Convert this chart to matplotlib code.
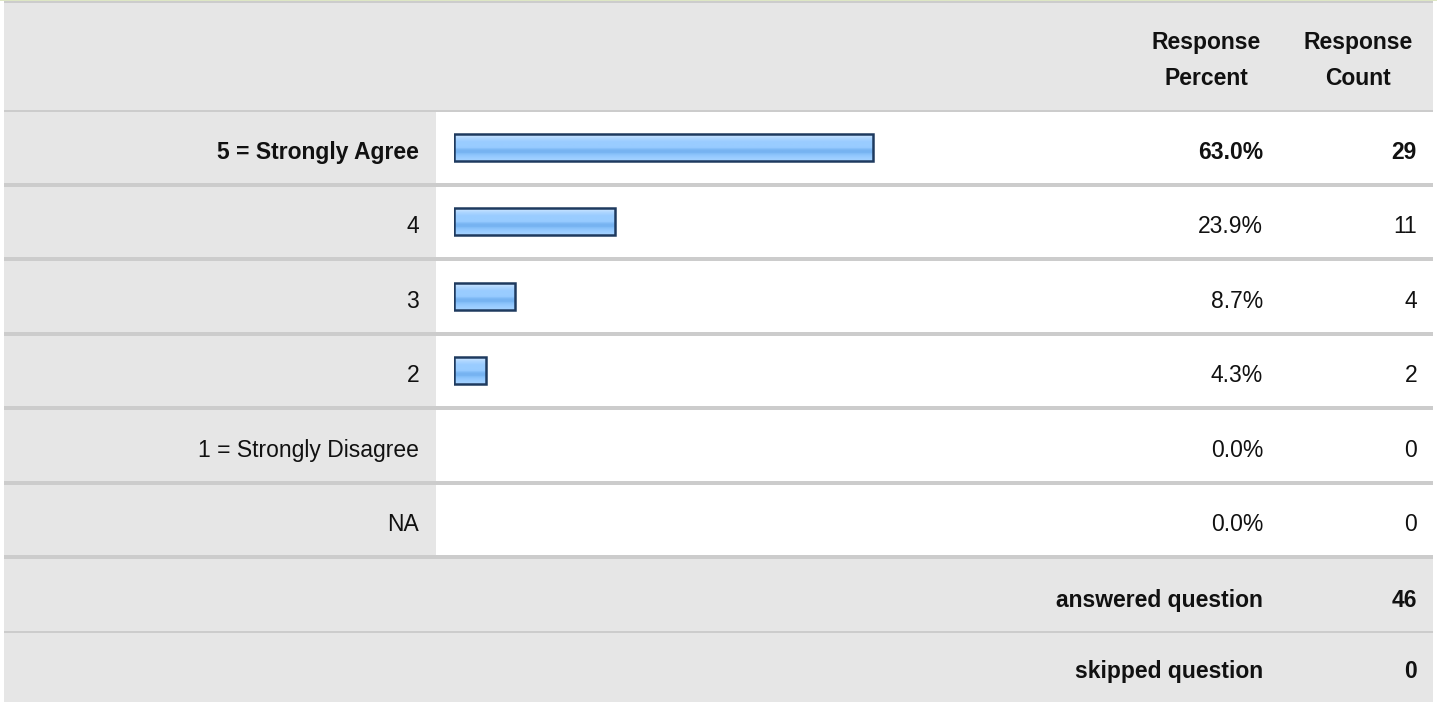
import numpy as np
import matplotlib
matplotlib.use('Agg')
import matplotlib.pyplot as plt
from matplotlib.patches import Rectangle
from matplotlib.colors import to_rgb

plt.rcParams['font.family'] = ['Liberation Sans', 'DejaVu Sans']

# datos de la encuesta
categorias = ['5 = Strongly Agree', '4', '3', '2', '1 = Strongly Disagree', 'NA']
porcentajes = [63.0, 23.9, 8.7, 4.3, 0.0, 0.0]
cuentas = [29, 11, 4, 2, 0, 0]
cabecera_pct = ['Response', 'Percent']
cabecera_cnt = ['Response', 'Count']
pie_textos = ['answered question', 'skipped question']
pie_valores = [46, 0]

# layout en pixeles
W, H = 1437, 702
x_izq, x_der, x_col = 4, 1433, 436
y_base = 110
alto_fila = 74.5
x_pct, x_cnt, x_etq = 1263, 1417, 419
fs = 16.5
gris = '#e6e6e6'
linea = '#cccccc'
txt = '#111111'

fig = plt.figure(figsize=(W / 100, H / 100), dpi=100)
fig.patch.set_facecolor('white')

ax = fig.add_axes([0, 0, 1, 1])
ax.set_xlim(0, W)
ax.set_ylim(H, 0)
ax.axis('off')

# borde superior
ax.add_patch(Rectangle((0, 0), W, 1, color='#dde6c4', lw=0))
ax.add_patch(Rectangle((x_izq, 1), x_der - x_izq, 2, color=linea, lw=0))
# cabecera
ax.add_patch(Rectangle((x_izq, 3), x_der - x_izq, y_base - 3, color=gris, lw=0))
ax.add_patch(Rectangle((x_izq, y_base - 0.5), x_der - x_izq, 2, color=linea, lw=0))

n = len(categorias)
maximo = max(porcentajes)
for i in range(n):
    top = y_base + i * alto_fila
    ax.add_patch(Rectangle((x_izq, top), x_col - x_izq, alto_fila, color=gris, lw=0, zorder=0))
    ax.add_patch(Rectangle((x_izq, top + alto_fila - 2), x_der - x_izq, 4, color=linea, lw=0, zorder=1))
    yb = top + alto_fila / 2 + 11.5
    peso = 'bold' if porcentajes[i] == maximo else 'normal'
    ax.text(x_etq, yb, categorias[i], ha='right', va='baseline', fontsize=fs, fontweight=peso, color=txt)
    ax.text(x_pct, yb, f'{porcentajes[i]:.1f}%', ha='right', va='baseline', fontsize=fs, fontweight=peso, color=txt)
    ax.text(x_cnt, yb, str(cuentas[i]), ha='right', va='baseline', fontsize=fs, fontweight=peso, color=txt)

# pie de tabla
y_pie = y_base + n * alto_fila + 2
alturas_pie = [alto_fila - 2, H - (y_pie + alto_fila - 2)]
top = y_pie
for k in range(len(pie_textos)):
    ax.add_patch(Rectangle((x_izq, top), x_der - x_izq, alturas_pie[k], color=gris, lw=0, zorder=0))
    if k == 0:
        ax.add_patch(Rectangle((x_izq, top + alturas_pie[k] - 1), x_der - x_izq, 2, color=linea, lw=0, zorder=1))
    yb = top + alturas_pie[k] / 2 + 11.5
    ax.text(x_pct, yb, pie_textos[k], ha='right', va='baseline', fontsize=fs, fontweight='bold', color=txt)
    ax.text(x_cnt, yb, str(pie_valores[k]), ha='right', va='baseline', fontsize=fs, fontweight='bold', color=txt)
    top += alturas_pie[k]

# textos de cabecera
for j, linea_txt in enumerate(cabecera_pct):
    ax.text(1206, 49 + j * 36, linea_txt, ha='center', va='baseline', fontsize=fs, fontweight='bold', color=txt)
for j, linea_txt in enumerate(cabecera_cnt):
    ax.text(1358, 49 + j * 36, linea_txt, ha='center', va='baseline', fontsize=fs, fontweight='bold', color=txt)

# barras con degradado
x0_barra = 453.5
px_por_pct = 6.59
pad = 0.6
alto_barra = 0.356
ax_b = fig.add_axes([x0_barra / W, 1 - (y_base + n * alto_fila) / H,
                     100 * px_por_pct / W, n * alto_fila / H])
ax_b.patch.set_alpha(0)
degradado = ['#c6e2ff', '#c0dfff', '#b0d7ff', '#a6d2ff', '#9ccdff', '#99ccff', '#99ccff',
             '#99ccff', '#96caff', '#80bbf6', '#76b3f1', '#76b3f1', '#86c0f9', '#90c6fd',
             '#98cbff', '#9ecfff', '#a4d2ff']
grad = np.array([to_rgb(c) for c in degradado]).reshape(-1, 1, 3)
for i, p in enumerate(porcentajes):
    if p <= 0:
        continue
    ax_b.imshow(grad, extent=[0, p + pad, i + alto_barra / 2, i - alto_barra / 2],
                aspect='auto', interpolation='bilinear', zorder=2)
    ax_b.barh(i, p + pad, height=alto_barra, left=0, facecolor='none',
              edgecolor='#1e3a5f', linewidth=1.8, zorder=3)
ax_b.set_xlim(0, 100)
ax_b.set_ylim(n - 0.5, -0.5)
ax_b.axis('off')

plt.savefig('out.png', dpi=100)
